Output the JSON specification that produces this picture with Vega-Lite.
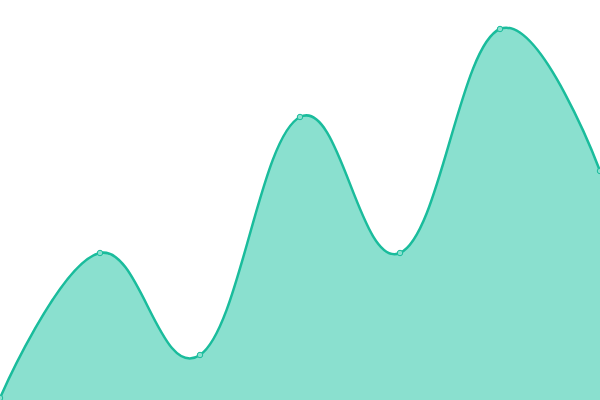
{
  "$schema": "https://vega.github.io/schema/vega-lite/v6.json",
  "autosize": {"type": "none"},
  "width": 600,
  "height": 400,
  "padding": 0,
  "background": "white",
  "config": {"view": {"stroke": null}},
  "data": {
    "values": [
      {"x": 0, "y": 2},
      {"x": 1, "y": 147},
      {"x": 2, "y": 45},
      {"x": 3, "y": 283},
      {"x": 4, "y": 147},
      {"x": 5, "y": 371},
      {"x": 6, "y": 229}
    ]
  },
  "encoding": {
    "x": {"field": "x", "type": "quantitative", "scale": {"domain": [0, 6], "nice": false}, "axis": null},
    "y": {"field": "y", "type": "quantitative", "scale": {"domain": [0, 400], "nice": false}, "axis": null}
  },
  "layer": [
    {
      "mark": {
        "type": "area",
        "interpolate": "cardinal",
        "tension": -0.2,
        "color": "#8ae0cf",
        "opacity": 1,
        "clip": true,
        "line": {"color": "#1abc9c", "strokeWidth": 2.5}
      }
    },
    {
      "mark": {
        "type": "point",
        "shape": "circle",
        "filled": true,
        "size": 30,
        "fill": "#8ae0cf",
        "stroke": "#1abc9c",
        "strokeWidth": 1,
        "opacity": 1
      }
    }
  ]
}
